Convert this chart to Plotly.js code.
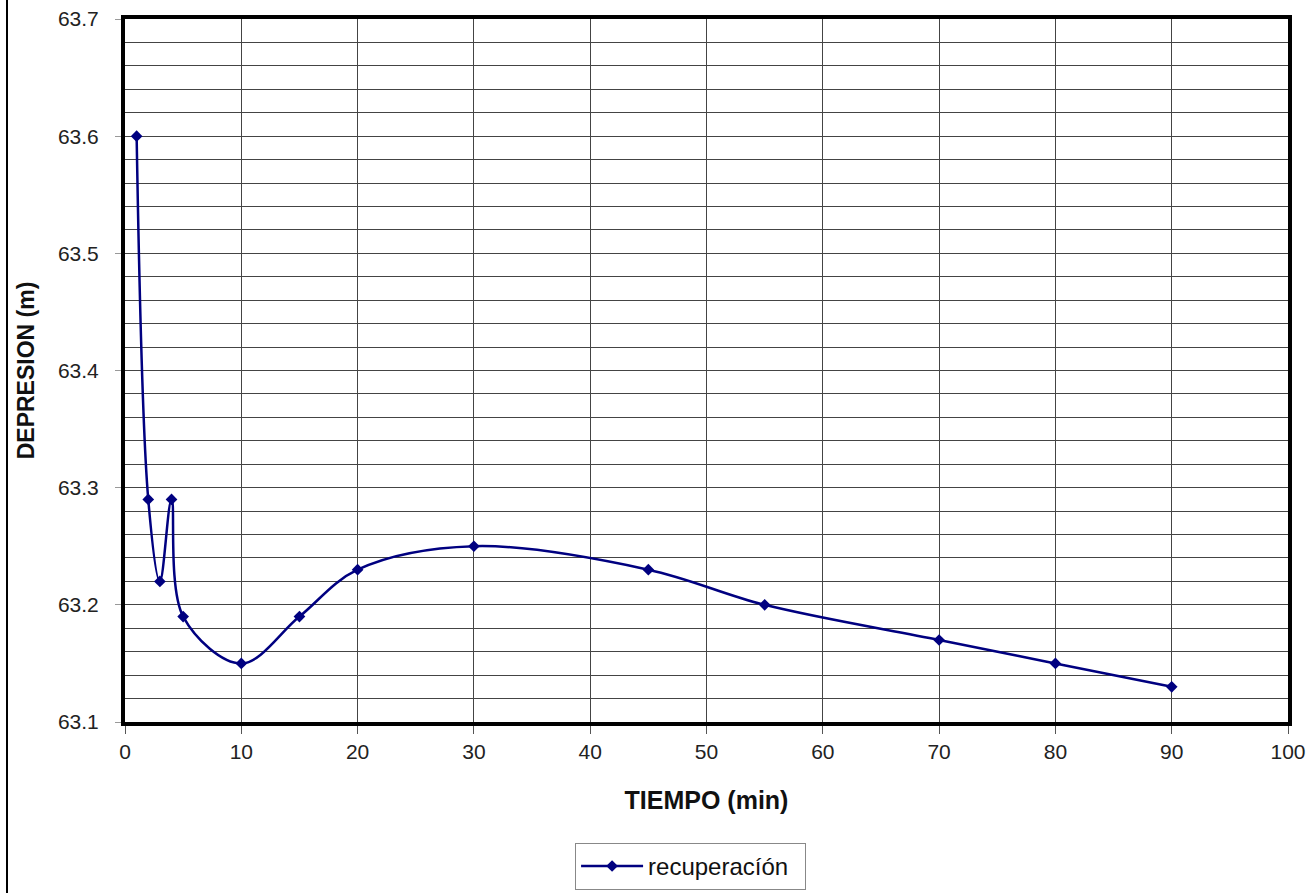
<!DOCTYPE html>
<html>
<head>
<meta charset="utf-8">
<script src="https://cdn.plot.ly/plotly-3.0.1.min.js"></script>
<style>
html,body{margin:0;padding:0;background:#fff;}
#wrap{position:relative;width:1316px;height:893px;overflow:hidden;}
#edge{position:absolute;left:6px;top:0;width:2px;height:893px;background:#000;}
#chart{position:absolute;left:0;top:0;width:1316px;height:893px;}
</style>
</head>
<body>
<div id="wrap"><div id="chart"></div><div id="edge"></div></div>
<script>
var tiempo = [1, 2, 3, 4, 5, 10, 15, 20, 30, 45, 55, 70, 80, 90];
var depresion = [63.6, 63.29, 63.22, 63.29, 63.19, 63.15, 63.19, 63.23, 63.25, 63.23, 63.2, 63.17, 63.15, 63.13];
var seriesName = 'recuperacíón';
var xTitle = 'TIEMPO (min)';
var yTitle = 'DEPRESION (m)';

var trace = {
  x: tiempo, y: depresion, name: seriesName,
  type: 'scatter', mode: 'lines+markers',
  line: {color: '#000080', width: 2.5, shape: 'spline', smoothing: 1},
  marker: {symbol: 'diamond', size: 9, color: '#000080'}
};

var layout = {
  width: 1316, height: 893,
  margin: {l: 124.6, r: 28, t: 19, b: 171, autoexpand: false},
  paper_bgcolor: '#fff', plot_bgcolor: '#fff',
  font: {family: 'Arial, Liberation Sans, sans-serif', color: '#222'},
  showlegend: true,
  legend: {
    orientation: 'h', entrywidth: 152, itemwidth: 62,
    x: 0.387, xanchor: 'left', y: -0.172, yanchor: 'top',
    bordercolor: '#888', borderwidth: 1, bgcolor: '#fff',
    font: {size: 24, color: '#111'}
  },
  xaxis: {
    range: [0, 100], dtick: 10, tick0: 0,
    showgrid: true, gridcolor: '#444', gridwidth: 1,
    showline: true, mirror: true, linecolor: '#000', linewidth: 4,
    ticks: 'outside', ticklen: 8, tickcolor: '#555',
    tickfont: {size: 21, color: '#222'},
    zeroline: false,
    title: {text: xTitle, font: {size: 25, color: '#111', weight: 'bold'}, standoff: 30}
  },
  yaxis: {
    range: [63.1, 63.7], dtick: 0.1, tick0: 63.1, tickformat: '.1f',
    showgrid: true, gridcolor: '#444', gridwidth: 1,
    minor: {dtick: 0.02, showgrid: true, gridcolor: '#444', gridwidth: 1},
    showline: true, mirror: true, linecolor: '#000', linewidth: 4,
    ticks: 'outside', ticklen: 6, tickcolor: '#999',
    ticklabelstandoff: 12,
    tickfont: {size: 21, color: '#222'},
    zeroline: false,
    title: {text: yTitle, font: {size: 23, color: '#111', weight: 'bold'}, standoff: 18}
  }
};

Plotly.newPlot('chart', [trace], layout, {staticPlot: true, displayModeBar: false});
</script>
</body>
</html>
